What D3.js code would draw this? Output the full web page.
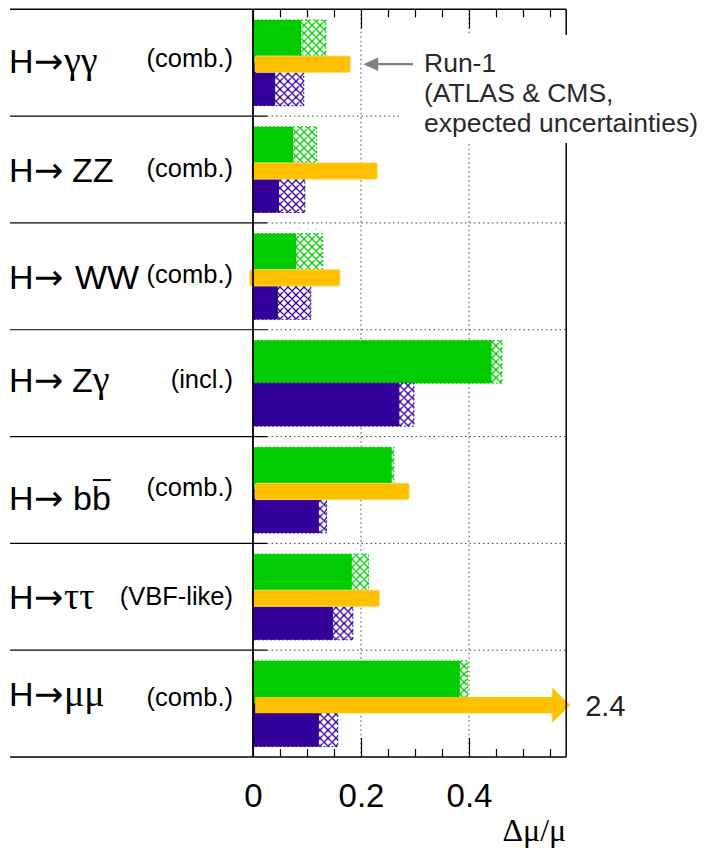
<!DOCTYPE html>
<html>
<head>
<meta charset="utf-8">
<script src="https://cdn.jsdelivr.net/npm/d3@7"></script>
<style>
  body { margin: 0; background: #fff; }
  svg { display: block; }
</style>
</head>
<body>
<svg id="chart" width="716" height="857"></svg>
<script>
// Decay channels, top to bottom
const channels = ["γγ", "ZZ", "WW", "Zγ", "bb", "ττ", "μμ"];
const channelNotes = ["(comb.)", "(comb.)", "(comb.)", "(incl.)", "(comb.)", "(VBF-like)", "(comb.)"];

// Projected relative uncertainty Δμ/μ, upper (green) bars: statistical part and total
const projA_stat  = [0.089, 0.074, 0.080, 0.442, 0.257, 0.183, 0.383];
const projA_total = [0.135, 0.118, 0.129, 0.461, 0.261, 0.214, 0.397];
// lower (blue) bars: statistical part and total
const projB_stat  = [0.041, 0.048, 0.046, 0.271, 0.122, 0.148, 0.122];
const projB_total = [0.094, 0.096, 0.107, 0.298, 0.136, 0.185, 0.157];
// Run-1 expected uncertainties (orange); null where there is none
const run1Start = [0.004, -0.002, -0.006, null, 0.004, -0.002, 0.004];
const run1Value = [0.180, 0.230, 0.161, null, 0.289, 0.234, 2.4];

const xTickValues  = [0, 0.2, 0.4];
const xMinorValues = [0.05, 0.1, 0.15, 0.25, 0.3, 0.35, 0.45, 0.5, 0.55];
const xMax = 0.58;
const legendLines = ["Run-1", "(ATLAS & CMS,", "expected uncertainties)"];
const xTitle = "Δμ/μ";

// ---- layout ----
const W = 716, H = 857;
const plotL = 253, plotR = 566.2, plotT = 9.3, plotB = 757;
const labelL = 10;
const colGreen = "#00cc00", colBlue = "#330099", colOrange = "#ffc000";
const sans = "'Liberation Sans', Arial, Helvetica, sans-serif";
const serif = "'Liberation Serif', 'Times New Roman', serif";
const arrowFont = "'DejaVu Sans', sans-serif";

// per-row text baselines (offset from row top) and particle start x
const hBase    = [63.4, 65.7, 66.3, 62.4, 73.0, 65.6, 55.7];
const noteBase = [57.4, 60.5, 60.3, 58.7, 59.7, 62.0, 55.4];
const partX    = [64, 72, 75, 72, 73, 64, 64];

const svg = d3.select("#chart");
svg.append("rect").attr("width", W).attr("height", H).attr("fill", "#fff");

const x = d3.scaleLinear().domain([0, xMax]).range([plotL, plotR]);
const y = d3.scaleBand().domain(channels).range([plotT, plotB]).padding(0);

// hatch patterns
const defs = svg.append("defs");
function hatch(id, color) {
  const p = defs.append("pattern").attr("id", id)
    .attr("patternUnits", "userSpaceOnUse").attr("width", 8).attr("height", 8);
  p.append("rect").attr("width", 8).attr("height", 8).attr("fill", "#fff");
  p.append("path").attr("d", "M0,0L8,8M8,0L0,8M-1,7L1,9M7,-1L9,1M-1,1L1,-1M7,9L9,7")
    .attr("stroke", color).attr("stroke-width", 1.3).attr("fill", "none");
}
hatch("hatchGreen", colGreen);
hatch("hatchBlue", colBlue);

// ---- grid ----
const grid = svg.append("g");
grid.selectAll("line.v").data(xTickValues.filter(d => d > 0)).join("line")
  .attr("x1", d => x(d)).attr("x2", d => x(d))
  .attr("y1", plotT).attr("y2", plotB)
  .attr("stroke", "#444").attr("stroke-width", 1).attr("stroke-dasharray", "1.5,3");
const innerBounds = channels.slice(1).map(c => y(c));
grid.selectAll("line.h").data(innerBounds).join("line")
  .attr("x1", plotL + 14).attr("x2", plotR)
  .attr("y1", d => d).attr("y2", d => d)
  .attr("stroke", "#444").attr("stroke-width", 1).attr("stroke-dasharray", "1.5,3");

// ---- bars ----
const rows = svg.append("g").selectAll("g").data(channels).join("g")
  .attr("transform", c => `translate(0,${y(c)})`);

const gTop = 10.7, gBot = 53.4, bBot = 96.4;

function hatchedBar(sel, total, stat, y0, y1, color, pid) {
  sel.append("rect")
    .attr("x", x(0)).attr("y", y0)
    .attr("width", (c, i) => x(total[i]) - x(0)).attr("height", y1 - y0)
    .attr("fill", `url(#${pid})`).attr("stroke", color)
    .attr("stroke-width", 1).attr("stroke-dasharray", "2,2");
  sel.append("rect")
    .attr("x", x(0)).attr("y", y0)
    .attr("width", (c, i) => x(stat[i]) - x(0)).attr("height", y1 - y0)
    .attr("fill", color);
}
hatchedBar(rows, projA_total, projA_stat, gTop, gBot, colGreen, "hatchGreen");
hatchedBar(rows, projB_total, projB_stat, gBot, bBot, colBlue, "hatchBlue");

// Run-1 bars; values beyond the axis become an arrow
const oTop = 46.8, oBot = 63;
rows.each(function (c, i) {
  const v = run1Value[i];
  if (v == null) return;
  const g = d3.select(this);
  const x0 = x(run1Start[i]);
  if (v <= xMax) {
    g.append("rect").attr("x", x0).attr("y", oTop)
      .attr("width", x(v) - x0).attr("height", oBot - oTop)
      .attr("rx", 1.5).attr("fill", colOrange)
      .attr("stroke", "#ffd65c").attr("stroke-width", 1);
  } else {
    const tip = plotR + 4, headL = 18, headH = 17.7;
    const ym = (oTop + oBot) / 2;
    g.append("path")
      .attr("d", `M${x0},${oTop}L${tip - headL},${oTop}L${tip - headL},${ym - headH}` +
                 `L${tip},${ym}L${tip - headL},${ym + headH}L${tip - headL},${oBot}L${x0},${oBot}Z`)
      .attr("fill", colOrange);
    g.append("text").attr("x", tip + 15).attr("y", ym + 10.5)
      .attr("font-family", sans).attr("font-size", 29).attr("fill", "#222")
      .text(d3.format(".1f")(v));
  }
});

// ---- frame and separators ----
const frame = svg.append("g").attr("stroke", "#000");
frame.selectAll("line.sep").data(innerBounds).join("line")
  .attr("x1", labelL).attr("x2", plotL + 14)
  .attr("y1", d => d).attr("y2", d => d).attr("stroke-width", 1.2);
frame.append("line").attr("x1", labelL).attr("x2", plotR).attr("y1", plotT).attr("y2", plotT).attr("stroke-width", 1.5);
frame.append("line").attr("x1", labelL).attr("x2", plotR).attr("y1", plotB).attr("y2", plotB).attr("stroke-width", 1.5);
frame.append("line").attr("x1", plotL).attr("x2", plotL).attr("y1", plotT).attr("y2", plotB).attr("stroke-width", 1.8);
frame.append("line").attr("x1", plotR).attr("x2", plotR).attr("y1", plotT).attr("y2", plotB).attr("stroke-width", 1.5);

// axes: major and minor ticks pointing inwards, top and bottom
function tickAxis(axisFn, yPos, values, len) {
  const a = axisFn(x).tickValues(values).tickSizeInner(-len).tickSizeOuter(0).tickFormat("");
  const g = svg.append("g").attr("transform", `translate(0,${yPos})`).call(a);
  g.select(".domain").remove();
  g.selectAll(".tick line").attr("stroke", "#000").attr("stroke-width", 1.2);
  return g;
}
tickAxis(d3.axisBottom, plotB, xTickValues, 19);
tickAxis(d3.axisBottom, plotB, xMinorValues, 8);
tickAxis(d3.axisTop, plotT, xTickValues, 19);
tickAxis(d3.axisTop, plotT, xMinorValues, 8);

const labAxis = d3.axisBottom(x).tickValues(xTickValues).tickSize(0).tickPadding(0)
  .tickFormat(d => d === 0 ? "0" : d3.format(".1f")(d));
const lab = svg.append("g").attr("transform", `translate(0,${plotB})`).call(labAxis);
lab.select(".domain").remove();
lab.selectAll("text").attr("font-family", sans).attr("font-size", 33)
  .attr("fill", "#000").attr("dy", null).attr("y", 50);

svg.append("text").attr("x", plotR).attr("y", 841).attr("text-anchor", "end")
  .attr("font-family", serif).attr("font-size", 32).text(xTitle);

// ---- row labels ----
const labels = svg.append("g");
channels.forEach((c, i) => {
  const top = y(c);
  const base = top + hBase[i];
  const greek = /[α-ω]/.test(c);
  const t = labels.append("text").attr("y", base).attr("font-size", 34).attr("fill", "#000");
  t.append("tspan").attr("x", 9).attr("font-family", sans).text("H");
  t.append("tspan").attr("x", 34).attr("font-family", arrowFont).attr("font-size", 35).text("→");
  if (c === "Zγ") {
    t.append("tspan").attr("x", partX[i]).attr("font-family", sans).text("Z");
    t.append("tspan").attr("font-family", serif).attr("font-size", 38).text("γ");
  } else {
    t.append("tspan").attr("x", partX[i])
      .attr("font-family", greek ? serif : sans).attr("font-size", greek ? 38 : 34).text(c);
  }
  if (c === "bb") {
    // anti-quark bar over the second b
    const e = t.node().getExtentOfChar(3);
    labels.append("line").attr("x1", e.x + 1).attr("x2", e.x + e.width)
      .attr("y1", base - 29.5).attr("y2", base - 29.5)
      .attr("stroke", "#000").attr("stroke-width", 2);
  }
  labels.append("text").attr("x", 233).attr("y", top + noteBase[i]).attr("text-anchor", "end")
    .attr("font-family", sans).attr("font-size", 25.5).attr("fill", "#000").text(channelNotes[i]);
});

// ---- Run-1 legend ----
svg.append("rect").attr("x", 400).attr("y", 35).attr("width", 316).attr("height", 108).attr("fill", "#fff");
const legX = 424;
svg.append("text").attr("font-family", sans).attr("font-size", 26.5).attr("fill", "#2a2a2a")
  .selectAll("tspan").data(legendLines).join("tspan")
  .attr("x", legX).attr("y", (d, i) => 71.7 + i * 30.2).text(d => d);
const ay = y(channels[0]) + (oTop + oBot) / 2;
const aTip = x(run1Value[0]) + 13;
svg.append("line").attr("x1", aTip + 12).attr("x2", 413).attr("y1", ay).attr("y2", ay)
  .attr("stroke", "#808080").attr("stroke-width", 2.2);
svg.append("path").attr("d", `M${aTip},${ay}L${aTip + 15},${ay - 6.7}L${aTip + 15},${ay + 6.7}Z`)
  .attr("fill", "#808080");
</script>
</body>
</html>
